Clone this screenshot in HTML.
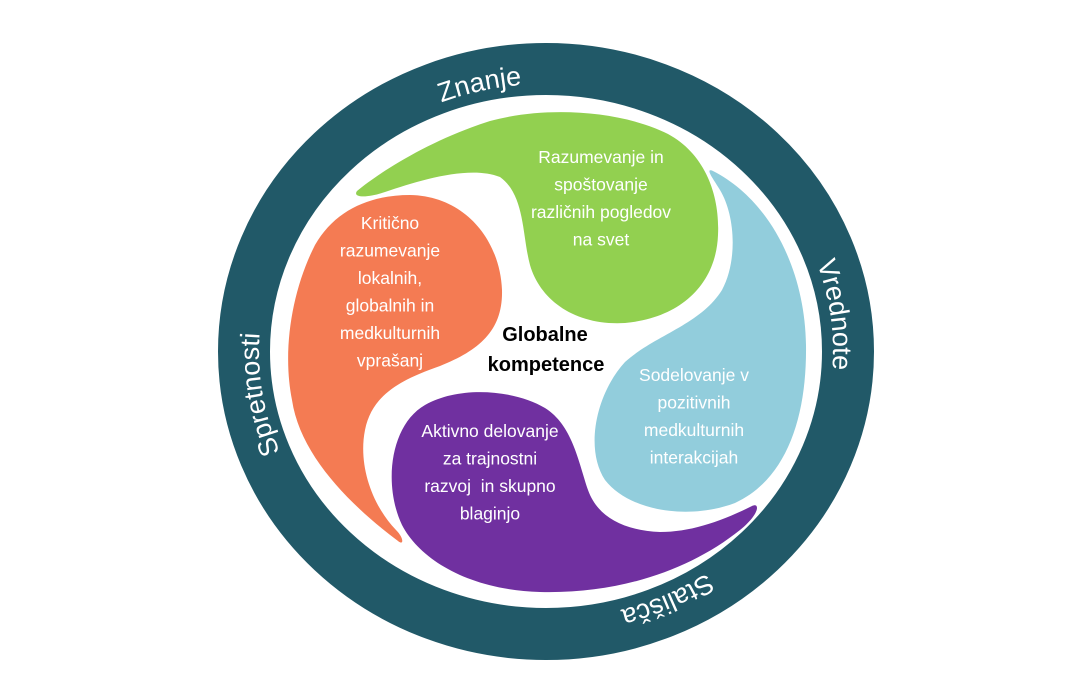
<!DOCTYPE html>
<html>
<head>
<meta charset="utf-8">
<style>
  html, body { margin: 0; padding: 0; background: #ffffff; }
  body { width: 1080px; height: 675px; overflow: hidden; }
  svg { display: block; }
  .ring { font-family: "Liberation Sans", sans-serif; font-size: 27px; fill: #ffffff; }
  .blob { font-family: "Liberation Sans", sans-serif; font-size: 17.5px; fill: #ffffff; }
  .center { font-family: "Liberation Sans", sans-serif; font-size: 20px; font-weight: bold; fill: #000000; }
</style>
</head>
<body>
<svg width="1080" height="675" viewBox="0 0 1080 675" xmlns="http://www.w3.org/2000/svg">
  <defs>
    <path id="pZ" d="M 288.9 232.6 A 287 267.5 0 0 1 716.3 136.2" fill="none"/>
    <path id="pV" d="M 700.6 126.1 A 287 267.5 0 0 1 757.3 532.6" fill="none"/>
    <path id="pS" d="M 823.7 418.9 A 287 267.5 0 0 1 426.5 594.7" fill="none"/>
    <path id="pP" d="M 397.1 580.2 A 287 267.5 0 0 1 330.2 175.1" fill="none"/>
  </defs>

  <!-- outer ring -->
  <ellipse cx="546" cy="351.5" rx="302" ry="282.5" fill="none" stroke="#215968" stroke-width="52"/>

  <!-- ring labels -->
  <text class="ring"><textPath href="#pZ" startOffset="50%" text-anchor="middle">Znanje</textPath></text>
  <text class="ring"><textPath href="#pV" startOffset="50%" text-anchor="middle">Vrednote</textPath></text>
  <text class="ring"><textPath href="#pS" startOffset="50%" text-anchor="middle">Stališča</textPath></text>
  <text class="ring"><textPath href="#pP" startOffset="50%" text-anchor="middle">Spretnosti</textPath></text>

  <!-- green -->
  <path fill="#92D050" d="M 357 191
    C 380 172, 430 140, 490 121
    C 545 106, 620 110, 668 134
    C 705 154, 720 195, 718 235
    C 716 285, 680 318, 625 323
    C 575 326, 540 300, 530 265
    C 522 235, 525 195, 500 177
    C 470 165, 420 180, 385 192
    C 368 198, 352 198, 357 191 Z"/>

  <!-- orange -->
  <path fill="#F47B53" d="M 398 541
    C 350 505, 300 455, 292 400
    C 282 350, 292 290, 315 245
    C 335 210, 370 195, 410 195
    C 465 196, 500 240, 502 290
    C 503 330, 480 350, 440 366
    C 400 380, 372 395, 365 430
    C 358 465, 372 505, 396 530
    C 404 538, 404 546, 398 541 Z"/>

  <!-- light blue -->
  <path fill="#92CDDC" d="M 713 171
    C 770 200, 805 270, 806 345
    C 807 420, 785 480, 735 503
    C 690 520, 630 512, 605 480
    C 585 450, 595 395, 625 362
    C 655 335, 700 325, 722 290
    C 738 260, 735 215, 720 190
    C 714 180, 704 167, 713 171 Z"/>

  <!-- purple -->
  <path fill="#7030A0" d="M 752 506
    C 720 522, 690 532, 660 532
    C 620 530, 597 515, 588 490
    C 578 460, 572 425, 545 408
    C 515 390, 460 385, 425 405
    C 390 425, 383 485, 402 525
    C 420 560, 470 590, 540 592
    C 620 594, 690 570, 740 530
    C 760 514, 760 502, 752 506 Z"/>

  <!-- green text -->
  <g class="blob" text-anchor="middle">
    <text x="601" y="163">Razumevanje in</text>
    <text x="601" y="190.5">spoštovanje</text>
    <text x="601" y="218">različnih pogledov</text>
    <text x="601" y="245.5">na svet</text>
  </g>

  <!-- orange text -->
  <g class="blob" text-anchor="middle">
    <text x="390" y="229">Kritično</text>
    <text x="390" y="256.5">razumevanje</text>
    <text x="390" y="284">lokalnih,</text>
    <text x="390" y="311.5">globalnih in</text>
    <text x="390" y="339">medkulturnih</text>
    <text x="390" y="366.5">vprašanj</text>
  </g>

  <!-- purple text -->
  <g class="blob" text-anchor="middle">
    <text x="490" y="437">Aktivno delovanje</text>
    <text x="490" y="464.5">za trajnostni</text>
    <text x="490" y="492" xml:space="preserve">razvoj  in skupno</text>
    <text x="490" y="519.5">blaginjo</text>
  </g>

  <!-- blue text -->
  <g class="blob" text-anchor="middle">
    <text x="694" y="381">Sodelovanje v</text>
    <text x="694" y="408.5">pozitivnih</text>
    <text x="694" y="436">medkulturnih</text>
    <text x="694" y="463.5">interakcijah</text>
  </g>

  <!-- center text -->
  <g class="center" text-anchor="middle">
    <text x="545" y="341">Globalne</text>
    <text x="546" y="371">kompetence</text>
  </g>
</svg>
</body>
</html>
